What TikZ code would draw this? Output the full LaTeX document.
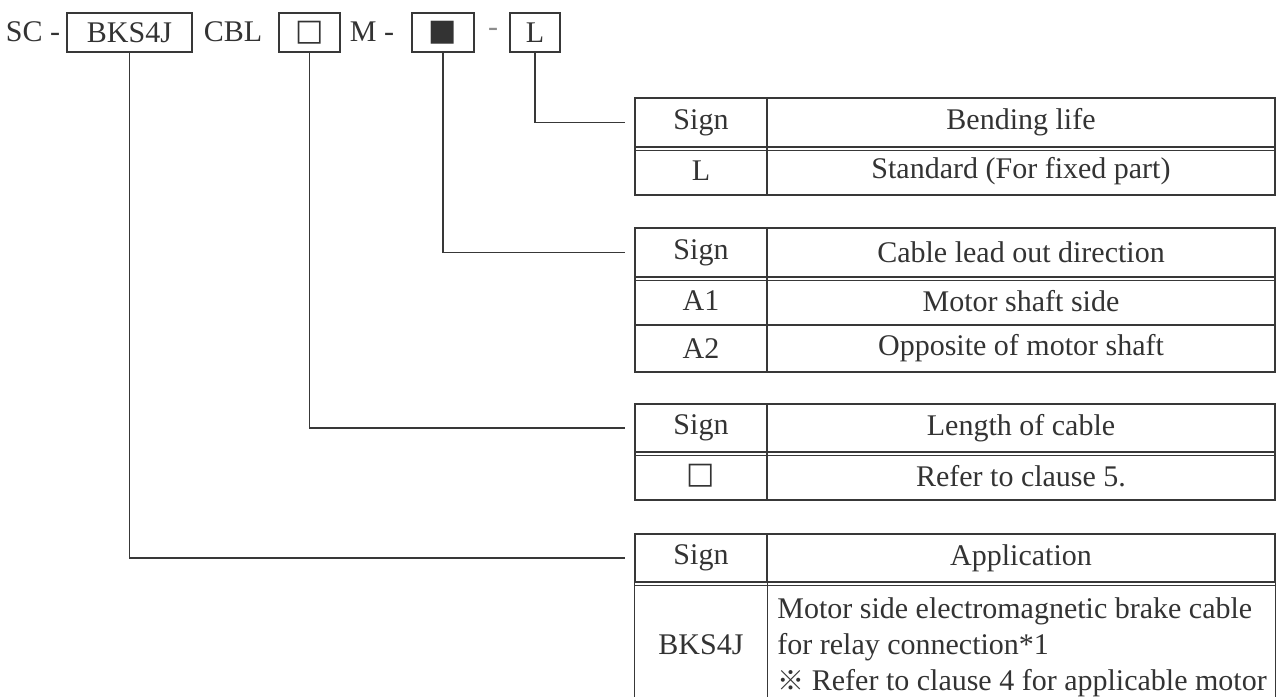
\documentclass[tikz,border=0pt]{standalone}
\usepackage{fontspec}
\setmainfont{Liberation Serif}
\newfontfamily\cjk{Noto Sans CJK JP}
\newfontfamily\symfont{DejaVu Sans}
\colorlet{ink}{black!78}
\tikzset{
  codebox/.style={draw=ink, line width=0.8pt, minimum height=19.5pt, inner sep=0pt},
  cell/.style={draw=ink, line width=0.7pt, inner sep=0pt, minimum height=24pt},
  signcol/.style={cell, minimum width=66pt},
  desccol/.style={cell, minimum width=254pt},
  lead/.style={draw=ink, line width=0.9pt},
  rule/.style={draw=ink, line width=0.7pt}
}
\begin{document}
\begin{tikzpicture}[x=0.5pt,y=-0.5pt,font=\fontsize{15}{18}\selectfont,text=black!80]
    \useasboundingbox (0,0) rectangle (1282,697);
    \coordinate (bot) at (0,697);

    % model code
    \node (sc) at (33,32) {SC -};
    \node[codebox, minimum width=62.5pt] (bks) at (129.5,32.5) {BKS4J};
    \node (cbl) at (233,32) {CBL};
    \node[codebox, minimum width=30.5pt] (len) at (309.5,32.5) {\symfont □};
    \node (m) at (372,32) {M -};
    \node[codebox, minimum width=31pt] (dir) at (443,32.5) {\symfont ■};
    \node[text=black!45] (dash) at (493,32) {-};
    \node[codebox, minimum width=25pt] (life) at (535,32.5) {L};

    % bending life
    \node[signcol, minimum height=24.5pt] (a-sign) at (701,122.5) {Sign};
    \node[desccol, minimum height=24.5pt] (a-head) at (1021,122.5) {Bending life};
    \node[signcol] (a-l) at (701,171) {L};
    \node[desccol] (a-std) at (1021,171) {Standard (For fixed part)};
    \draw[rule] ([yshift=-1.5pt]a-sign.south west) -- ([yshift=-1.5pt]a-head.south east);

    % lead out direction
    \node[signcol, minimum height=24.5pt] (b-sign) at (701,252.5) {Sign};
    \node[desccol, minimum height=24.5pt] (b-head) at (1021,252.5) {Cable lead out direction};
    \node[signcol] (b-a1) at (701,301) {A1};
    \node[desccol] (b-shaft) at (1021,301) {Motor shaft side};
    \node[signcol, minimum height=23.5pt] (b-a2) at (701,348.5) {A2};
    \node[desccol, minimum height=23.5pt] (b-opp) at (1021,348.5) {Opposite of motor shaft};
    \draw[rule] ([yshift=-1.5pt]b-sign.south west) -- ([yshift=-1.5pt]b-head.south east);

    % cable length
    \node[signcol] (c-sign) at (701,428) {Sign};
    \node[desccol] (c-head) at (1021,428) {Length of cable};
    \node[signcol] (c-box) at (701,476) {\symfont □};
    \node[desccol] (c-ref) at (1021,476) {Refer to clause 5.};
    \draw[rule] ([yshift=-1.5pt]c-sign.south west) -- ([yshift=-1.5pt]c-head.south east);

    % application
    \node[signcol] (d-sign) at (701,558) {Sign};
    \node[desccol] (d-head) at (1021,558) {Application};
    \draw[rule] ([yshift=-1.5pt]d-sign.south west) -- ([yshift=-1.5pt]d-head.south east);
    \node[inner sep=0pt] (d-bks) at (701,645) {BKS4J};
    \node[inner sep=0pt, anchor=west, align=left, font=\fontsize{15}{18}\selectfont] (d-app) at (777,647)
        {Motor side electromagnetic brake cable\\for relay connection*1\\{\cjk\fontsize{13.5}{18}\selectfont ※}\ Refer to clause 4 for applicable motor};
    \draw[rule] (d-sign.south west) -- (d-sign.south west |- bot);
    \draw[rule] (d-sign.south east) -- (d-sign.south east |- bot);
    \draw[rule] (d-head.south east) -- (d-head.south east |- bot);

    % leaders
    \draw[lead] (life.south) |- ([xshift=-4.5pt]a-sign.west);
    \draw[lead] (dir.south) |- ([xshift=-4.5pt]b-sign.west);
    \draw[lead] (len.south) |- ([xshift=-4.5pt]c-sign.west);
    \draw[lead] (bks.south) |- ([xshift=-4.5pt]d-sign.west);
\end{tikzpicture}
\end{document}
